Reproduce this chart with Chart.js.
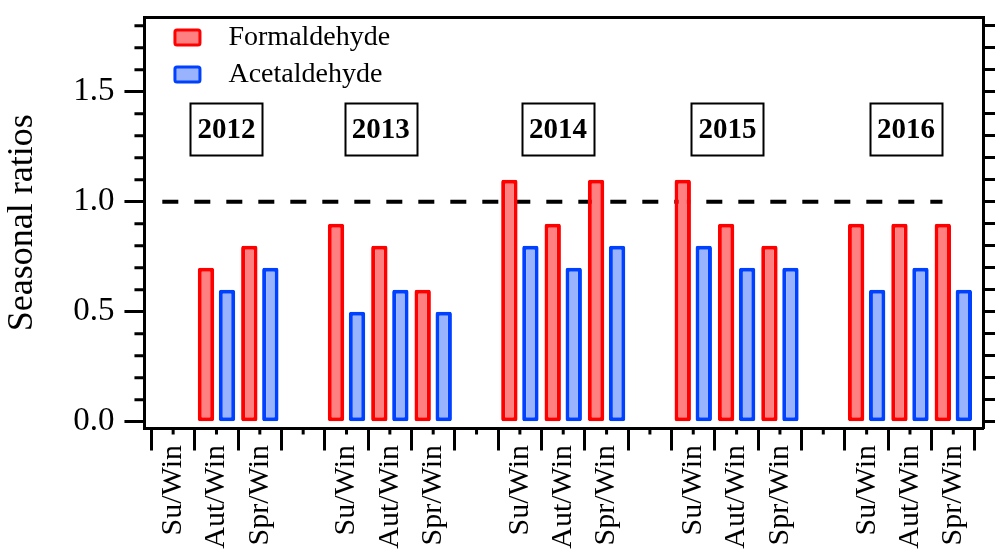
<!DOCTYPE html>
<html>
<head>
<meta charset="utf-8">
<title>Seasonal ratios</title>
<script src="https://cdn.jsdelivr.net/npm/chart.js@4/dist/chart.umd.min.js"></script>
<style>
  html, body { margin: 0; padding: 0; background: #fff; }
  #wrap { width: 995px; height: 552px; position: relative; }
</style>
</head>
<body>
<div id="wrap"><canvas id="chart"></canvas></div>
<script>
// data
const years = ['2012', '2013', '2014', '2015', '2016'];
const seasons = ['Su/Win', 'Aut/Win', 'Spr/Win'];
const formaldehyde = [null, 0.7, 0.8, 0.9, 0.8, 0.6, 1.1, 0.9, 1.1, 1.1, 0.9, 0.8, 0.9, 0.9, 0.9];
const acetaldehyde = [null, 0.6, 0.7, 0.5, 0.6, 0.5, 0.8, 0.7, 0.8, 0.8, 0.7, 0.7, 0.6, 0.7, 0.6];
const yTickValues = [0, 0.5, 1.0, 1.5];
const refLevel = 1.0;

// each year uses 3 season slots followed by one empty slot
const slotLabels = [];
years.forEach((yr, g) => {
    seasons.forEach(s => slotLabels.push(s));
    if (g < years.length - 1) slotLabels.push('');
});
const slotCenter = (g, s) => g * 4 + s + 0.5;
const toPoints = values => values.map((v, i) => ({x: slotCenter(Math.floor(i / 3), i % 3), y: v}));

const X_MIN = -0.162, X_MAX = slotLabels.length + 0.185;
const Y_MIN = -0.031, Y_MAX = 1.84;
const minorY = [];
for (let i = 0; i <= 18; i++) minorY.push(i / 10);

Chart.defaults.font.family = "'Liberation Serif', 'Times New Roman', serif";
Chart.defaults.color = '#000';

// minor ticks, year boxes and the legend inside the frame
const decor = {
    id: 'decor',
    afterDraw(chart, args, opts) {
        const {ctx, chartArea, scales: {x, y}} = chart;
        ctx.save();
        ctx.strokeStyle = '#000';
        ctx.lineWidth = 3;
        ctx.beginPath();
        minorY.forEach((v, i) => {
            if (i % 5 === 0) return;
            const py = y.getPixelForValue(v);
            ctx.moveTo(y.right - 10, py);
            ctx.lineTo(y.right, py);
        });
        x.ticks.forEach(t => {
            const px = x.getPixelForValue(t.value);
            ctx.moveTo(px, x.top);
            ctx.lineTo(px, x.top + 6);
        });
        ctx.stroke();

        // year boxes
        ctx.lineWidth = 2;
        ctx.font = 'bold 29px ' + Chart.defaults.font.family;
        ctx.textAlign = 'center';
        ctx.textBaseline = 'middle';
        ctx.fillStyle = '#000';
        years.forEach((yr, g) => {
            const cx = x.getPixelForValue(slotCenter(g, 1) + opts.nudge[g]);
            const cy = y.getPixelForValue(opts.yearLevel);
            ctx.strokeRect(Math.round(cx - 36) + 0.5, Math.round(cy - 26) + 0.5, 72, 52);
            ctx.fillText(yr, cx, cy + 1);
        });

        // legend
        ctx.font = '28px ' + Chart.defaults.font.family;
        ctx.textAlign = 'left';
        chart.data.datasets.filter(d => d.type !== 'line').forEach((d, i) => {
            const bx = chartArea.left + 30.5;
            const cy = chartArea.top + 20.5 + i * 37;
            ctx.beginPath();
            ctx.roundRect(bx, cy - 7.5, 25, 15, 2);
            ctx.fillStyle = d.backgroundColor;
            ctx.fill();
            ctx.lineWidth = 3;
            ctx.strokeStyle = d.borderColor;
            ctx.stroke();
            ctx.fillStyle = '#000';
            ctx.fillText(d.label, bx + 53.5, cy);
        });
        ctx.restore();
    }
};

const barStyle = {
    borderWidth: 4,
    borderRadius: 2,
    borderSkipped: false,
    barPercentage: 0.78,
    categoryPercentage: 0.97,
    order: 0
};

const config = {
    type: 'bar',
    data: {
        datasets: [
            Object.assign({
                label: 'Formaldehyde',
                data: toPoints(formaldehyde),
                backgroundColor: '#ff8080',
                borderColor: '#ff0000'
            }, barStyle),
            Object.assign({
                label: 'Acetaldehyde',
                data: toPoints(acetaldehyde),
                backgroundColor: '#99b3ff',
                borderColor: '#0040ff'
            }, barStyle),
            {
                type: 'line',
                label: 'ref',
                data: [{x: 0.25, y: refLevel}, {x: slotLabels.length - 0.75, y: refLevel}],
                borderColor: '#000',
                borderWidth: 4,
                borderDash: [16, 16],
                pointRadius: 0,
                order: 5
            }
        ]
    },
    options: {
        responsive: true,
        maintainAspectRatio: false,
        animation: false,
        layout: {padding: {left: 0, right: 0, top: 17, bottom: 0}},
        plugins: {
            legend: {display: false},
            tooltip: {enabled: false},
            decor: {yearLevel: 1.33, nudge: [0.23, -0.21, -0.12, -0.21, -0.09]}
        },
        scales: {
            x: {
                type: 'linear',
                position: 'bottom',
                min: X_MIN,
                max: X_MAX,
                offset: false,
                afterBuildTicks: s => { s.ticks = slotLabels.map((l, i) => ({value: i + 0.5})); },
                // fixed height so the rotated labels are not clipped
                afterFit: s => { s.height = 123.5; },
                ticks: {
                    autoSkip: false,
                    minRotation: 90,
                    maxRotation: 90,
                    padding: -5.5,
                    font: {size: 30},
                    callback: (v, i) => slotLabels[i]
                },
                grid: {offset: true, drawOnChartArea: false, tickLength: 22, tickWidth: 3, color: '#000'},
                border: {width: 3, color: '#000'}
            },
            x2: {
                type: 'linear',
                position: 'top',
                min: X_MIN,
                max: X_MAX,
                ticks: {display: false},
                grid: {display: false, drawTicks: false},
                border: {width: 3, color: '#000'}
            },
            y: {
                min: Y_MIN,
                max: Y_MAX,
                afterBuildTicks: s => { s.ticks = yTickValues.map(v => ({value: v})); },
                ticks: {
                    padding: 10,
                    font: {size: 33, lineHeight: 0.4},
                    callback: v => v.toFixed(1)
                },
                grid: {drawOnChartArea: false, tickLength: 20, tickWidth: 3, color: '#000'},
                border: {width: 3, color: '#000'},
                title: {
                    display: true,
                    text: 'Seasonal ratios',
                    font: {size: 36},
                    padding: {top: 1, bottom: 19}
                }
            },
            y2: {
                type: 'linear',
                position: 'right',
                min: Y_MIN,
                max: Y_MAX,
                afterBuildTicks: s => { s.ticks = minorY.map(v => ({value: v})); },
                ticks: {display: false},
                grid: {drawOnChartArea: false, tickLength: 12, tickWidth: 3, color: '#000'},
                border: {width: 3, color: '#000'}
            }
        }
    },
    plugins: [decor]
};

const chart = new Chart(document.getElementById('chart'), config);
</script>
</body>
</html>
